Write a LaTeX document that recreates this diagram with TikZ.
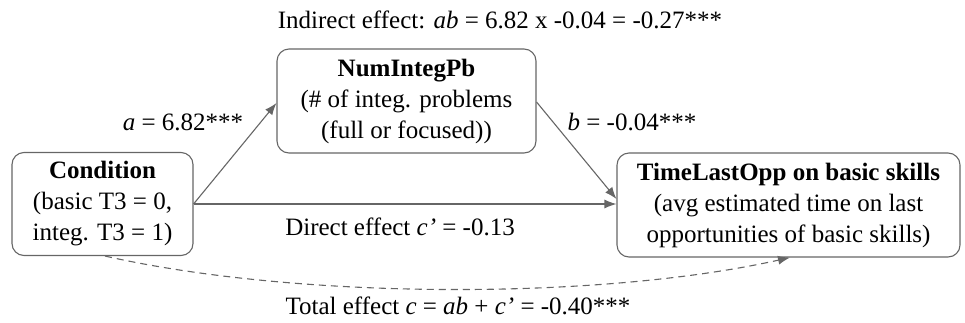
\documentclass[tikz,border=0pt]{standalone}
\usepackage{fontspec}
\setmainfont{Liberation Serif}
\usetikzlibrary{arrows.meta}
\definecolor{edgegray}{HTML}{666666}
\begin{document}
\begin{tikzpicture}[x=1pt,y=-1pt,
  varbox/.style={draw=edgegray, line width=1.1pt, rounded corners=12pt, align=center,
    inner sep=0pt, font=\fontsize{25}{31}\selectfont},
  lbl/.style={font=\fontsize{25}{30}\selectfont, inner sep=0pt},
  conn/.style={draw=edgegray, line width=1.1pt, -{Latex[length=12pt,width=9pt]}}]
\useasboundingbox (0,0) rectangle (965,322);
\node[varbox, minimum width=181pt, minimum height=103pt] (cond) at (102.5,204)
  {\textbf{Condition}\\(basic T3 = 0,\\integ. T3 = 1)};
\node[varbox, minimum width=259pt, minimum height=104pt] (med) at (406.5,101)
  {\textbf{NumIntegPb}\\(\# of integ. problems\\(full or focused))};
\node[varbox, minimum width=343pt, minimum height=104pt] (out) at (788.5,205)
  {\textbf{TimeLastOpp on basic skills}\\(avg estimated time on last\\opportunities of basic skills)};
\coordinate (cE) at (cond.east);
\draw[conn] (cE) -- (med.west |- 0,103);
\draw[conn] (med.east |- 0,102) -- (out.west |- 0,199);
\draw[conn] (cE) -- (out.west |- cE);
\draw[conn, dashed, dash pattern=on 7pt off 5pt] (cond.south -| 105,0) .. controls (300,300) and (600,300) .. (out.south -| 790,0);
\node[lbl] (ind) at (500,20) {Indirect effect: \textit{ab} = 6.82 x -0.04 = -0.27***};
\node[lbl] (la) at (183,122) {\textit{a} = 6.82***};
\node[lbl] (lb) at (632,122) {\textit{b} = -0.04***};
\node[lbl] (ld) at (400,227) {Direct effect \textit{c’} = -0.13};
\node[lbl] (lt) at (458,306) {Total effect \textit{c} = \textit{ab} + \textit{c’} = -0.40***};
\end{tikzpicture}
\end{document}
